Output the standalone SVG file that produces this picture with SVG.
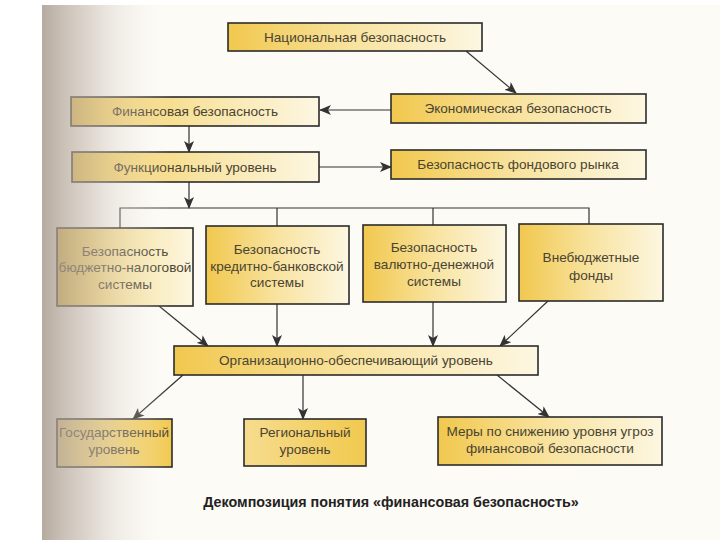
<svg xmlns="http://www.w3.org/2000/svg" width="720" height="540" viewBox="0 0 720 540">
<defs>
<linearGradient id="gold" x1="0" y1="0" x2="1" y2="0">
<stop offset="0" stop-color="#f1c84e"/>
<stop offset="0.5" stop-color="#f8e3a0"/>
<stop offset="1" stop-color="#fdf7e2"/>
</linearGradient>
<linearGradient id="goldR" x1="0" y1="0" x2="1" y2="0">
<stop offset="0" stop-color="#f6dc8e"/>
<stop offset="1" stop-color="#f1c94f"/>
</linearGradient>
<linearGradient id="shade" x1="0" y1="0" x2="1" y2="0">
<stop offset="0" stop-color="#a3968a" stop-opacity="0.8"/>
<stop offset="0.35" stop-color="#c2b6ab" stop-opacity="0.55"/>
<stop offset="1" stop-color="#ffffff" stop-opacity="0"/>
</linearGradient>
<marker id="ah" viewBox="0 0 12 10" refX="11" refY="5" markerWidth="12" markerHeight="10" markerUnits="userSpaceOnUse" orient="auto">
<path d="M0,0 L12,5 L0,10 L3,5 Z" fill="#333"/>
</marker>
<style>
.box{fill:url(#gold);stroke:#2b2b2b;stroke-width:1.6}
.t{font-family:"Liberation Sans",Arial,sans-serif;font-size:13.6px;fill:#4a4432;text-anchor:middle}
.c{stroke:#333;stroke-width:1.2;fill:none}
.a{marker-end:url(#ah)}
.cap{font-family:"Liberation Sans",Arial,sans-serif;font-size:14.3px;font-weight:bold;fill:#222;text-anchor:middle}
</style>
</defs>
<rect x="0" y="0" width="720" height="540" fill="#ffffff"/>
<rect x="42" y="5" width="678" height="535" fill="#fdfbf6"/>

<g id="connectors">
<line class="c a" x1="466" y1="51" x2="516" y2="93"/>
<line class="c a" x1="391" y1="110" x2="320" y2="110"/>
<line class="c a" x1="189" y1="126" x2="189" y2="152"/>
<line class="c a" x1="319" y1="167" x2="391" y2="167"/>
<line class="c a" x1="189" y1="182" x2="189" y2="208"/>
<polyline class="c" points="120,228 120,208 589,208 589,224"/>
<line class="c" x1="277" y1="208" x2="277" y2="226"/>
<line class="c" x1="433" y1="208" x2="433" y2="225"/>
<line class="c a" x1="159" y1="306" x2="208" y2="346"/>
<line class="c a" x1="277" y1="304" x2="277" y2="346"/>
<line class="c a" x1="433" y1="302" x2="433" y2="346"/>
<line class="c a" x1="548" y1="301" x2="500" y2="346"/>
<line class="c a" x1="183" y1="375" x2="133" y2="419"/>
<line class="c a" x1="303" y1="375" x2="303" y2="419"/>
<line class="c a" x1="497" y1="375" x2="549" y2="417"/>
</g>

<g id="n-national"><rect class="box" x="228" y="23" width="254" height="28"/><text class="t" x="355" y="42">Национальная безопасность</text></g>
<g id="n-economic"><rect class="box" x="391" y="94" width="255" height="29"/><text class="t" x="518" y="113">Экономическая безопасность</text></g>
<g id="n-financial"><rect class="box" x="71" y="97" width="248" height="29"/><text class="t" x="195" y="116">Финансовая безопасность</text></g>
<g id="n-functional"><rect class="box" x="72" y="152" width="247" height="30"/><text class="t" x="195" y="172">Функциональный уровень</text></g>
<g id="n-stock"><rect class="box" x="391" y="150" width="255" height="29"/><text class="t" x="518" y="169">Безопасность фондового рынка</text></g>

<g id="n-budget"><rect class="box" x="57" y="228" width="136" height="78"/>
<text class="t" x="125" y="256">Безопасность</text><text class="t" x="125" y="272">бюджетно-налоговой</text><text class="t" x="125" y="289">системы</text></g>
<g id="n-credit"><rect class="box" x="206" y="226" width="143" height="78"/>
<text class="t" x="277" y="254">Безопасность</text><text class="t" x="277" y="271">кредитно-банковской</text><text class="t" x="277" y="287">системы</text></g>
<g id="n-currency"><rect class="box" x="363" y="225" width="143" height="77"/>
<text class="t" x="434" y="252">Безопасность</text><text class="t" x="434" y="269">валютно-денежной</text><text class="t" x="434" y="286">системы</text></g>
<g id="n-funds"><rect class="box" x="519" y="224" width="144" height="77"/>
<text class="t" x="591" y="262">Внебюджетные</text><text class="t" x="591" y="280">фонды</text></g>

<g id="n-org"><rect class="box" x="174" y="346" width="364" height="29"/><text class="t" x="356" y="365">Организационно-обеспечивающий уровень</text></g>

<g id="n-state"><rect class="box" x="57" y="419" width="115" height="48" style="fill:url(#goldR)"/>
<text class="t" x="114" y="437">Государственный</text><text class="t" x="114" y="454">уровень</text></g>
<g id="n-region"><rect class="box" x="244" y="419" width="122" height="47" style="fill:url(#goldR)"/>
<text class="t" x="305" y="437">Региональный</text><text class="t" x="305" y="454">уровень</text></g>
<g id="n-measures"><rect class="box" x="438" y="417" width="224" height="48"/>
<text class="t" x="550" y="436">Меры по снижению уровня угроз</text><text class="t" x="550" y="453">финансовой безопасности</text></g>

<text class="cap" x="391" y="507">Декомпозиция понятия «финансовая безопасность»</text>

<rect x="42" y="5" width="130" height="535" fill="url(#shade)"/>
</svg>
